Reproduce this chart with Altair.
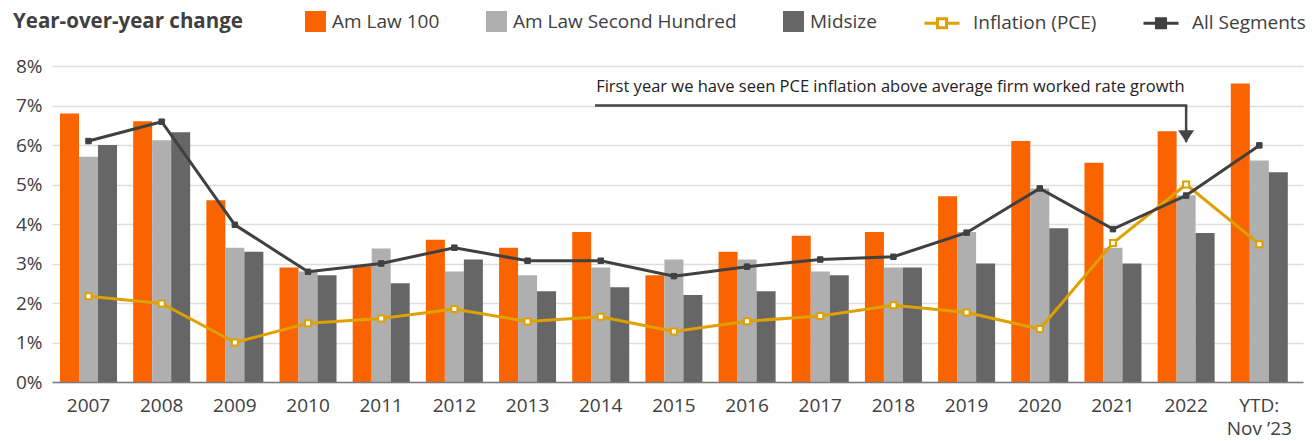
import altair as alt
import pandas as pd

# ---------------- data ----------------
categories = ["2007", "2008", "2009", "2010", "2011", "2012", "2013", "2014",
              "2015", "2016", "2017", "2018", "2019", "2020", "2021", "2022",
              "YTD:\nNov ’23"]

bar_series = ["Am Law 100", "Am Law Second Hundred", "Midsize"]
am_law_100 = [6.8, 6.6, 4.6, 2.9, 2.93, 3.6, 3.4, 3.8, 2.7, 3.3, 3.7, 3.8, 4.7, 6.1, 5.55, 6.35, 7.56]
am_law_second_hundred = [5.7, 6.12, 3.4, 2.8, 3.38, 2.8, 2.7, 2.9, 3.1, 3.1, 2.8, 2.9, 3.8, 4.9, 3.4, 4.73, 5.61]
midsize = [6.0, 6.32, 3.3, 2.7, 2.5, 3.1, 2.3, 2.4, 2.2, 2.3, 2.7, 2.9, 3.0, 3.89, 3.0, 3.77, 5.31]

line_series = ["Inflation (PCE)", "All Segments"]
inflation_pce = [2.17, 1.99, 1.0, 1.49, 1.61, 1.85, 1.53, 1.65, 1.28, 1.54, 1.67, 1.94, 1.76, 1.34, 3.52, 5.0, 3.49]
all_segments = [6.1, 6.59, 3.98, 2.79, 3.0, 3.4, 3.07, 3.07, 2.68, 2.92, 3.1, 3.17, 3.78, 4.9, 3.87, 4.72, 5.99]

y_ticks = [0, 1, 2, 3, 4, 5, 6, 7, 8]

chart_title = "Year-over-year change"
annotation_text = "First year we have seen PCE inflation above average firm worked rate growth"
annotation_from = "2014"
annotation_to = "2022"
annotation_level = 7.0
arrow_tip = 6.07

# ---------------- styles ----------------
FONT = "Open Sans"
bar_colors = ["#F96400", "#AFAFAF", "#666666"]
line_colors = ["#DFA000", "#404040"]
point_fills = ["#FFFFFF", "#404040"]
TEXT = "#404040"

bars_df = pd.DataFrame([
    {"category": c, "series": s, "value": v}
    for s, vals in zip(bar_series, [am_law_100, am_law_second_hundred, midsize])
    for c, v in zip(categories, vals)
])
lines_df = pd.DataFrame([
    {"category": c, "measure": s, "value": v}
    for s, vals in zip(line_series, [inflation_pce, all_segments])
    for c, v in zip(categories, vals)
])
ann_df = pd.DataFrame({"x": [annotation_from], "x2": [annotation_to],
                       "y": [annotation_level], "tip": [arrow_tip],
                       "text": [annotation_text]})

x_scale = alt.Scale(domain=categories, paddingInner=0.221, paddingOuter=0.1585,
                    align=0.345, round=False)
y_scale = alt.Scale(domain=[0, 8], nice=False, zero=True)

x_axis = alt.Axis(title=None, labelExpr="split(datum.label, '\\n')", ticks=False,
                  domain=True, domainColor="#7a7a7a", domainWidth=1.5,
                  labelFontSize=19, labelColor=TEXT, labelPadding=14,
                  labelLineHeight=23.5, labelAngle=0, grid=False, zindex=1,
                  labelOverlap=False, labelLimit=500)
y_axis = alt.Axis(title=None, values=y_ticks, labelExpr="datum.value + '%'",
                  ticks=False, domain=False, grid=True, gridColor="#dedede",
                  gridWidth=1.3, labelFontSize=19, labelColor=TEXT, labelPadding=10)


def X(field, **kw):
    return alt.X(field, type="nominal", scale=x_scale, axis=x_axis, **kw)


def Y(field):
    return alt.Y(field, type="quantitative", scale=y_scale, axis=y_axis)


bar_legend = alt.Legend(
    title=chart_title, titleOrient="left", titleFontSize=20.5, titleFontWeight="bold",
    titleColor=TEXT, titlePadding=62, titleFont=FONT, titleLimit=600,
    orient="none", legendX=-39, legendY=-55, direction="horizontal",
    symbolType="square", symbolSize=441, symbolStrokeWidth=0, symbolOpacity=1,
    labelOffset=6, columnPadding=46, labelFontSize=19, labelColor=TEXT,
    labelFont=FONT, labelLimit=600, padding=0)

LINE_SYMBOL = ("M-1,0L-0.26,0M0.26,0L1,0"
               "M-0.26,-0.26L0.26,-0.26L0.26,0.26L-0.26,0.26Z")
line_legend = alt.Legend(
    title=None, orient="none", legendX=871, legendY=-62, direction="horizontal",
    symbolType=LINE_SYMBOL, symbolSize=1225, symbolStrokeWidth=3, symbolOpacity=1,
    labelOffset=12, columnPadding=40, labelFontSize=19, labelColor=TEXT,
    labelFont=FONT, labelLimit=600, padding=0)

stroke_enc = alt.Stroke("measure:N", scale=alt.Scale(domain=line_series, range=line_colors),
                        legend=line_legend)
fill_enc = alt.Fill("measure:N", scale=alt.Scale(domain=line_series, range=point_fills),
                    legend=line_legend)

bars = alt.Chart(bars_df).mark_bar().encode(
    x=X("category"),
    xOffset=alt.XOffset("series:N", scale=alt.Scale(domain=bar_series, paddingInner=0,
                                                    paddingOuter=0)),
    y=Y("value"),
    color=alt.Color("series:N", scale=alt.Scale(domain=bar_series, range=bar_colors),
                    legend=bar_legend),
)

lines = alt.Chart(lines_df).mark_line(strokeWidth=3).encode(
    x=X("category"), y=Y("value"), stroke=stroke_enc,
)

pce_points = alt.Chart(lines_df).transform_filter(
    alt.datum.measure == line_series[0]
).mark_point(shape="square", filled=True, size=36, strokeWidth=2, opacity=1).encode(
    x=X("category"), y=Y("value"), stroke=stroke_enc, fill=fill_enc,
)

all_points = alt.Chart(lines_df).transform_filter(
    alt.datum.measure == line_series[1]
).mark_point(shape="square", filled=True, size=30, strokeWidth=1, opacity=1).encode(
    x=X("category"), y=Y("value"), stroke=stroke_enc, fill=fill_enc,
)

ann_line = alt.Chart(ann_df).mark_rule(strokeWidth=2.5, color="#444444").encode(
    x=X("x", bandPosition=0.4), x2=alt.X2("x2", bandPosition=0.52), y=Y("y"),
)
ann_drop = alt.Chart(ann_df).mark_rule(strokeWidth=2.5, color="#444444").encode(
    x=X("x2", bandPosition=0.5), y=Y("y"), y2=alt.Y2("tip"),
)
ann_head = alt.Chart(ann_df).mark_point(
    shape="M-1,-1.5L1,-1.5L0,0Z", size=256, filled=True, color="#444444", opacity=1
).encode(x=X("x2", bandPosition=0.5), y=Y("tip"))
ann_text = alt.Chart(ann_df).mark_text(
    align="left", baseline="middle", fontSize=16.5, color="#222222", font=FONT, dy=-19
).encode(x=X("x", bandPosition=0.42), y=Y("y"), text="text:N")

chart = alt.layer(
    bars, lines, pce_points, all_points, ann_line, ann_drop, ann_head, ann_text
).properties(
    width=1251, height=316,
    autosize=alt.AutoSizeParams(type="none"),
    padding={"left": 44, "top": 58, "right": 4, "bottom": 58},
).configure(font=FONT).configure_view(stroke=None)

chart.save("out.html", embed_options={"renderer": "svg", "actions": False})
